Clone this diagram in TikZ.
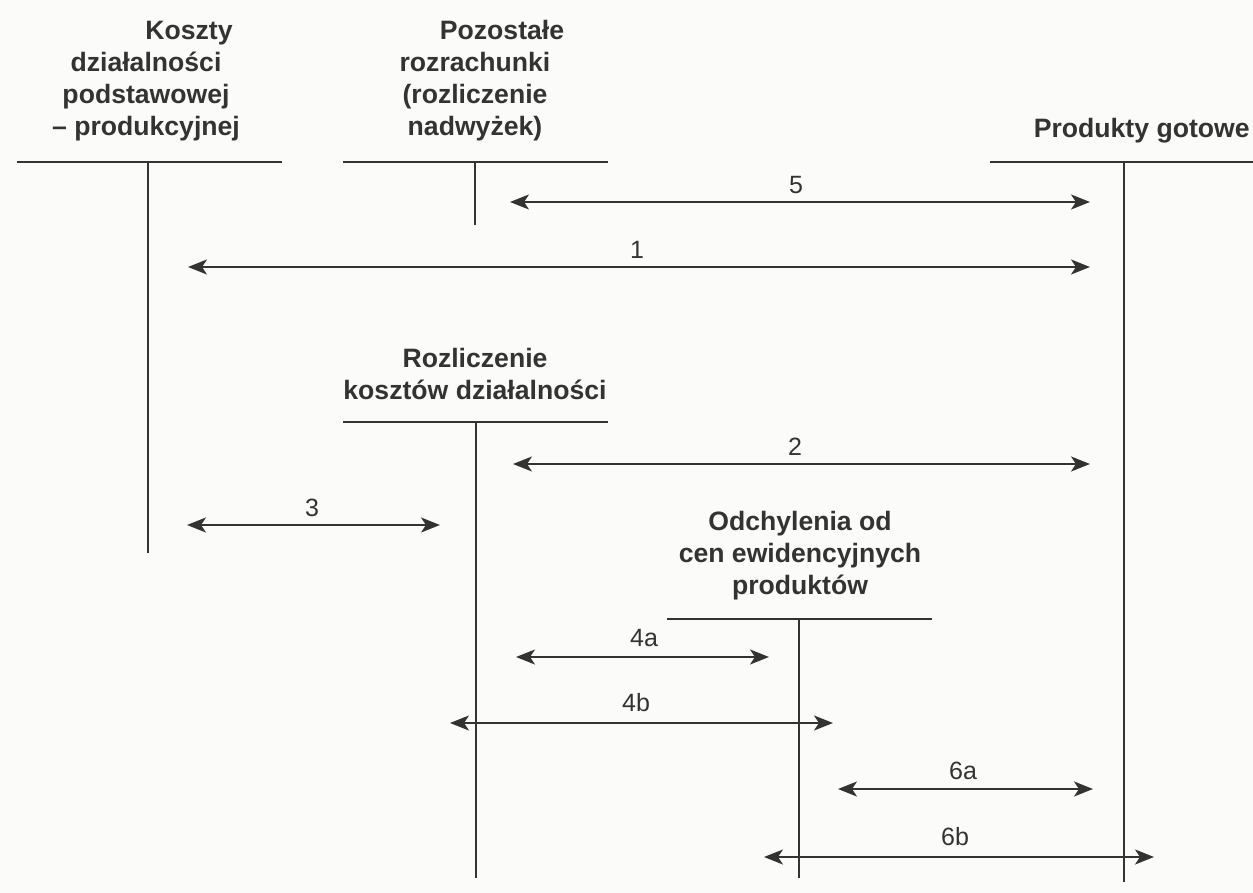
\documentclass[tikz,border=0pt]{standalone}
\usepackage{fontspec}
\setmainfont{Liberation Sans}
\usetikzlibrary{arrows.meta}
\definecolor{ink}{HTML}{333333}
\definecolor{paper}{HTML}{FBFBF9}
\begin{document}
\begin{tikzpicture}[x=0.5pt,y=-0.5pt,
  acct/.style={line width=1pt, draw=ink},
  hdr/.style={font=\bfseries\fontsize{13.3pt}{16pt}\selectfont, text=ink, align=center, inner sep=0pt, anchor=south},
  flow/.style={line width=0.85pt, draw=ink, {Stealth[length=9.5pt,width=7.5pt,inset=2.5pt]}-{Stealth[length=9.5pt,width=7.5pt,inset=2.5pt]}},
  lbl/.style={font=\fontsize{12.5pt}{15pt}\selectfont, text=ink, inner sep=0pt}]
\fill[paper] (0,0) rectangle (1253,893);
\useasboundingbox (0,0) rectangle (1253,893);

% account headers
\node[hdr] (hA) at (146,145.6) {\hspace*{43pt}Koszty\strut\\działalności\strut\\podstawowej\strut\\– produkcyjnej\strut};
\node[hdr] (hB) at (475,145.6) {\hspace*{27pt}Pozostałe\strut\\rozrachunki\strut\\(rozliczenie\strut\\nadwyżek)\strut};
\node[hdr, anchor=south east] (hC) at (1250,147.6) {Produkty gotowe\strut};
\node[hdr] (hD) at (475,409.6) {Rozliczenie\strut\\kosztów działalności\strut};
\node[hdr] (hE) at (800,604.6) {Odchylenia od\strut\\cen ewidencyjnych\strut\\produktów\strut};

% T-accounts
\coordinate (aL) at (17,162);   \coordinate (aR) at (282,162);
\coordinate (aT) at (148,162);  \coordinate (aB) at (148,553);
\coordinate (bL) at (343,162);  \coordinate (bR) at (608,162);
\coordinate (bT) at (475,162);  \coordinate (bB) at (475,225);
\coordinate (cL) at (990,162);  \coordinate (cR) at (1253,162);
\coordinate (cT) at (1124,162); \coordinate (cB) at (1124,882);
\coordinate (dL) at (343,422);  \coordinate (dR) at (608,422);
\coordinate (dT) at (476,422);  \coordinate (dB) at (476,878);
\coordinate (eL) at (667,619);  \coordinate (eR) at (932,619);
\coordinate (eT) at (799,619);  \coordinate (eB) at (799,878);
\foreach \a in {a,b,c,d,e}{
  \draw[acct] (\a L) -- (\a R);
  \draw[acct] (\a T) -- (\a B);
}

% flows
\coordinate (f5l) at (510,202);  \coordinate (f5r) at (1090,202);
\coordinate (f1l) at (188,267);  \coordinate (f1r) at (1090,267);
\coordinate (f2l) at (513,464);  \coordinate (f2r) at (1090,464);
\coordinate (f3l) at (187,525);  \coordinate (f3r) at (440,525);
\coordinate (f4al) at (516,657); \coordinate (f4ar) at (769,657);
\coordinate (f4bl) at (450,723); \coordinate (f4br) at (833,723);
\coordinate (f6al) at (838,789); \coordinate (f6ar) at (1093,789);
\coordinate (f6bl) at (764,857); \coordinate (f6br) at (1154,857);
\draw[flow] (f5l) -- (f5r);
\draw[flow] (f1l) -- (f1r);
\draw[flow] (f2l) -- (f2r);
\draw[flow] (f3l) -- (f3r);
\draw[flow] (f4al) -- (f4ar);
\draw[flow] (f4bl) -- (f4br);
\draw[flow] (f6al) -- (f6ar);
\draw[flow] (f6bl) -- (f6br);

% labels
\node[lbl] (l5) at (796,185) {5};
\node[lbl] (l1) at (637,250) {1};
\node[lbl] (l2) at (795,447) {2};
\node[lbl] (l3) at (312,508) {3};
\node[lbl] (l4a) at (644,638) {4a};
\node[lbl] (l4b) at (636,703) {4b};
\node[lbl] (l6a) at (963,771) {6a};
\node[lbl] (l6b) at (955,837) {6b};
\end{tikzpicture}
\end{document}
